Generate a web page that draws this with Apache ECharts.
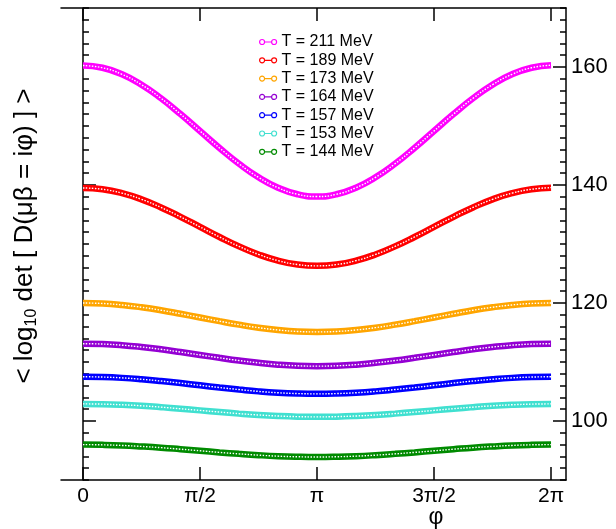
<!DOCTYPE html>
<html>
<head>
<meta charset="utf-8">
<script src="https://cdn.jsdelivr.net/npm/echarts@6/dist/echarts.min.js"></script>
<style>html,body{margin:0;padding:0;background:#fff}#c{width:616px;height:529px}</style>
</head>
<body>
<div id="c"></div>
<script>
const phi = [0,0.2618,0.5236,0.7854,1.0472,1.3090,1.5708,1.8326,2.0944,2.3562,2.6180,2.8798,3.1416,3.4034,3.6652,3.9270,4.1888,4.4506,4.7124,4.9742,5.2360,5.4978,5.7596,6.0214,6.2832];
const t211 = [160.25,159.87,158.76,157.00,154.70,152.02,149.15,146.28,143.60,141.30,139.54,138.43,138.05,138.43,139.54,141.30,143.60,146.28,149.15,152.02,154.70,157.00,158.76,159.87,160.30];
const t189 = [139.50,139.28,138.62,137.57,136.20,134.61,132.90,131.19,129.60,128.23,127.18,126.52,126.30,126.52,127.18,128.23,129.60,131.19,132.90,134.61,136.20,137.57,138.62,139.28,139.55];
const t173 = [120.00,119.92,119.67,119.28,118.78,118.18,117.55,116.92,116.33,115.82,115.43,115.18,115.10,115.18,115.43,115.82,116.33,116.92,117.55,118.18,118.78,119.28,119.67,119.92,120.00];
const t164 = [113.10,113.04,112.85,112.54,112.15,111.69,111.20,110.71,110.25,109.86,109.55,109.36,109.30,109.36,109.55,109.86,110.25,110.71,111.20,111.69,112.15,112.54,112.85,113.04,113.10];
const t157 = [107.50,107.45,107.31,107.08,106.78,106.43,106.05,105.67,105.33,105.02,104.79,104.65,104.60,104.65,104.79,105.02,105.33,105.67,106.05,106.43,106.78,107.08,107.31,107.45,107.50];
const t153 = [102.90,102.86,102.75,102.58,102.35,102.08,101.80,101.52,101.25,101.02,100.85,100.74,100.70,100.74,100.85,101.02,101.25,101.52,101.80,102.08,102.35,102.58,102.75,102.86,102.90];
const t144 = [96.00,95.96,95.86,95.69,95.48,95.22,94.95,94.68,94.43,94.21,94.04,93.94,93.90,93.94,94.04,94.21,94.43,94.68,94.95,95.22,95.48,95.69,95.86,95.96,96.00];

const seriesNames = ['T = 211 MeV','T = 189 MeV','T = 173 MeV','T = 164 MeV','T = 157 MeV','T = 153 MeV','T = 144 MeV'];
const seriesValues = [t211,t189,t173,t164,t157,t153,t144];
const seriesColors = ['#ff00ff','#ff0000','#ffa500','#9400d3','#0000ff','#40e0d0','#008b00'];

const phiTickValues = [0,1.5708,3.1416,4.7124,6.2832];
const phiTickLabels = ['0','π/2','π','3π/2','2π'];
const yMajorTicks = [100,120,140,160];
const yTickLabels = ['100','120','140','160'];

const FONT = 'Liberation Sans, Arial, Helvetica, sans-serif';
const chart = echarts.init(document.getElementById('c'), null, {renderer:'canvas'});

const series = [];
seriesValues.forEach((vals, i) => {
  const data = phi.map((p, k) => [p, vals[k]]);
  series.push({
    name: seriesNames[i], type: 'line', data, smooth: true, symbol: 'none', showSymbol: false,
    itemStyle: {color: seriesColors[i]},
    lineStyle: {color: seriesColors[i], width: 6.5}, z: 2, animation: false
  });
  series.push({
    name: '_w' + i, type: 'line', data, smooth: true, symbol: 'none', showSymbol: false,
    lineStyle: {color: '#ffffff', width: 1.4, type: [1.5, 1.5]}, z: 3, animation: false, silent: true
  });
});

const axisLine = {show: true, lineStyle: {color: '#000', width: 1.5}};
const lab = (arr, vals) => (v) => { const i = vals.findIndex(t => Math.abs(t - v) < 1e-3); return i >= 0 ? arr[i] : ''; };

const legendIcon = 'path://M0,2.5A2.5,2.5,0,1,1,5,2.5A2.5,2.5,0,1,1,0,2.5ZM5,2.5L12,2.5M12,2.5A2.5,2.5,0,1,1,17,2.5A2.5,2.5,0,1,1,12,2.5Z';

chart.setOption({
  animation: false,
  backgroundColor: '#fff',
  grid: {left: 61, right: 50, top: 8, bottom: 49, containLabel: false, outerBoundsMode: 'none'},
  legend: {
    orient: 'vertical', left: 254, top: 29, itemWidth: 17, itemHeight: 5, itemGap: 2.3,
    data: seriesNames.map((n, i) => ({
      name: n, icon: legendIcon,
      itemStyle: {color: '#ffffff', borderColor: seriesColors[i], borderWidth: 1.2, opacity: 1}
    })),
    textStyle: {fontSize: 16, fontFamily: FONT, color: '#000'},
    selectedMode: false
  },
  xAxis: [
    {type: 'value', position: 'bottom', min: -0.295, max: 6.484,
     axisLine, splitLine: {show: false},
     axisTick: {show: true, inside: true, length: 13, customValues: phiTickValues, lineStyle: {color: '#000', width: 1.5}},
     axisLabel: {show: true, customValues: phiTickValues, formatter: lab(phiTickLabels, phiTickValues), fontSize: 21, fontFamily: FONT, color: '#000', margin: 6},
     name: 'φ', nameLocation: 'middle', nameGap: 26, nameMoveOverlap: false,
     nameTextStyle: {fontSize: 23, fontFamily: FONT, color: '#000', padding: [0,0,0,245]}},
    {type: 'value', position: 'top', min: -0.295, max: 6.484,
     axisLine, splitLine: {show: false},
     axisTick: {show: true, inside: true, length: 13, customValues: phiTickValues, lineStyle: {color: '#000', width: 1.5}},
     axisLabel: {show: false}}
  ],
  yAxis: [
    {type: 'value', position: 'left', min: 90, max: 170, interval: 2,
     axisLine, splitLine: {show: false},
     axisTick: {show: true, inside: true, length: 6, lineStyle: {color: '#000', width: 1.5}},
     axisLabel: {show: false},
     name: '< log{sub|10} det [ D(μβ = iφ) ] >', nameLocation: 'middle', nameRotate: 90, nameGap: 21,
     nameTextStyle: {fontSize: 26, fontFamily: FONT, color: '#000', lineHeight: 30, padding: [0,0,0,16],
       rich: {sub: {fontSize: 16, fontFamily: FONT, color: '#000', lineHeight: 16, verticalAlign: 'bottom'}}}},
    {type: 'value', position: 'left', min: 90, max: 170,
     axisLine: {show: false}, splitLine: {show: false},
     axisTick: {show: true, inside: true, length: 13, customValues: yMajorTicks, lineStyle: {color: '#000', width: 1.5}},
     axisLabel: {show: false}},
    {type: 'value', position: 'right', min: 90, max: 170, interval: 2,
     axisLine, splitLine: {show: false},
     axisTick: {show: true, inside: true, length: 6, lineStyle: {color: '#000', width: 1.5}},
     axisLabel: {show: false}},
    {type: 'value', position: 'right', min: 90, max: 170,
     axisLine: {show: false}, splitLine: {show: false},
     axisTick: {show: true, inside: true, length: 13, customValues: yMajorTicks, lineStyle: {color: '#000', width: 1.5}},
     axisLabel: {show: true, customValues: yMajorTicks, formatter: lab(yTickLabels, yMajorTicks), fontSize: 22, fontFamily: FONT, color: '#000', margin: 5}}
  ],
  series
});
</script>
</body>
</html>
